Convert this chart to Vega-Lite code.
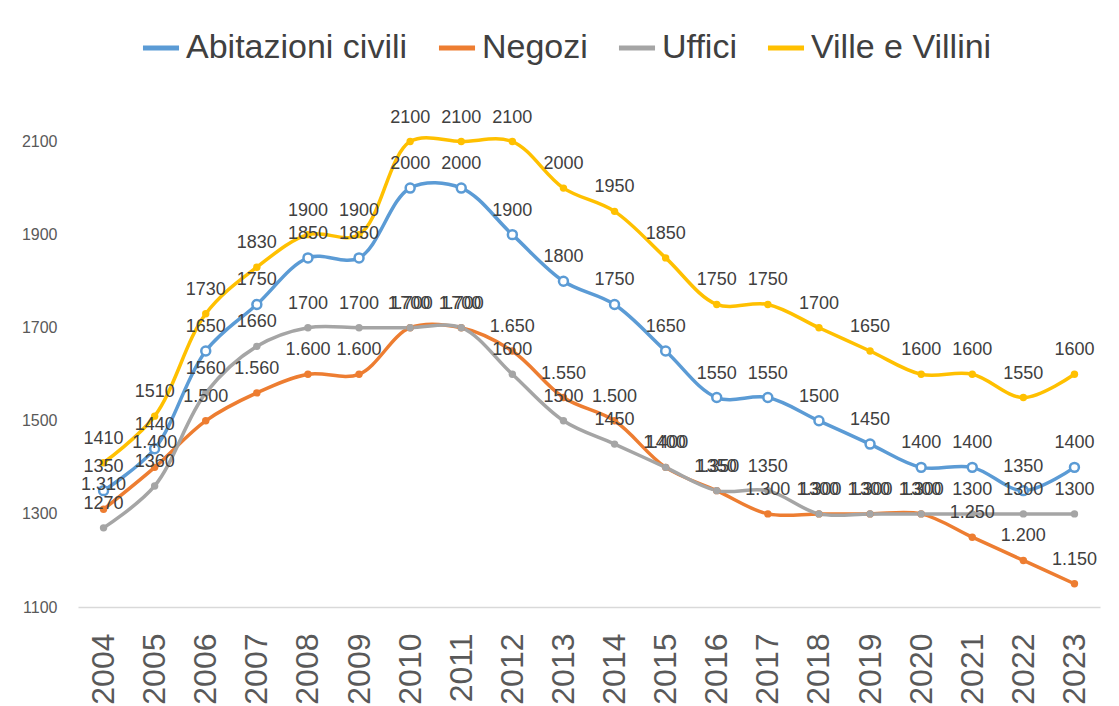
{
  "$schema": "https://vega.github.io/schema/vega-lite/v6.json",
  "width": 1022,
  "height": 512,
  "autosize": {"type": "none"},
  "padding": {"left": 78, "top": 95, "right": 19, "bottom": 99},
  "background": "white",
  "config": {
    "view": {"stroke": null},
    "locale": {"number": {"decimal": ",", "thousands": ".", "grouping": [3], "currency": ["€", ""]}},
    "font": "Liberation Sans"
  },
  "data": {
    "values": [
      {"year": "2004", "series": "Abitazioni civili", "value": 1350},
      {"year": "2005", "series": "Abitazioni civili", "value": 1440},
      {"year": "2006", "series": "Abitazioni civili", "value": 1650},
      {"year": "2007", "series": "Abitazioni civili", "value": 1750},
      {"year": "2008", "series": "Abitazioni civili", "value": 1850},
      {"year": "2009", "series": "Abitazioni civili", "value": 1850},
      {"year": "2010", "series": "Abitazioni civili", "value": 2000},
      {"year": "2011", "series": "Abitazioni civili", "value": 2000},
      {"year": "2012", "series": "Abitazioni civili", "value": 1900},
      {"year": "2013", "series": "Abitazioni civili", "value": 1800},
      {"year": "2014", "series": "Abitazioni civili", "value": 1750},
      {"year": "2015", "series": "Abitazioni civili", "value": 1650},
      {"year": "2016", "series": "Abitazioni civili", "value": 1550},
      {"year": "2017", "series": "Abitazioni civili", "value": 1550},
      {"year": "2018", "series": "Abitazioni civili", "value": 1500},
      {"year": "2019", "series": "Abitazioni civili", "value": 1450},
      {"year": "2020", "series": "Abitazioni civili", "value": 1400},
      {"year": "2021", "series": "Abitazioni civili", "value": 1400},
      {"year": "2022", "series": "Abitazioni civili", "value": 1350},
      {"year": "2023", "series": "Abitazioni civili", "value": 1400},
      {"year": "2004", "series": "Negozi", "value": 1310},
      {"year": "2005", "series": "Negozi", "value": 1400},
      {"year": "2006", "series": "Negozi", "value": 1500},
      {"year": "2007", "series": "Negozi", "value": 1560},
      {"year": "2008", "series": "Negozi", "value": 1600},
      {"year": "2009", "series": "Negozi", "value": 1600},
      {"year": "2010", "series": "Negozi", "value": 1700},
      {"year": "2011", "series": "Negozi", "value": 1700},
      {"year": "2012", "series": "Negozi", "value": 1650},
      {"year": "2013", "series": "Negozi", "value": 1550},
      {"year": "2014", "series": "Negozi", "value": 1500},
      {"year": "2015", "series": "Negozi", "value": 1400},
      {"year": "2016", "series": "Negozi", "value": 1350},
      {"year": "2017", "series": "Negozi", "value": 1300},
      {"year": "2018", "series": "Negozi", "value": 1300},
      {"year": "2019", "series": "Negozi", "value": 1300},
      {"year": "2020", "series": "Negozi", "value": 1300},
      {"year": "2021", "series": "Negozi", "value": 1250},
      {"year": "2022", "series": "Negozi", "value": 1200},
      {"year": "2023", "series": "Negozi", "value": 1150},
      {"year": "2004", "series": "Uffici", "value": 1270},
      {"year": "2005", "series": "Uffici", "value": 1360},
      {"year": "2006", "series": "Uffici", "value": 1560},
      {"year": "2007", "series": "Uffici", "value": 1660},
      {"year": "2008", "series": "Uffici", "value": 1700},
      {"year": "2009", "series": "Uffici", "value": 1700},
      {"year": "2010", "series": "Uffici", "value": 1700},
      {"year": "2011", "series": "Uffici", "value": 1700},
      {"year": "2012", "series": "Uffici", "value": 1600},
      {"year": "2013", "series": "Uffici", "value": 1500},
      {"year": "2014", "series": "Uffici", "value": 1450},
      {"year": "2015", "series": "Uffici", "value": 1400},
      {"year": "2016", "series": "Uffici", "value": 1350},
      {"year": "2017", "series": "Uffici", "value": 1350},
      {"year": "2018", "series": "Uffici", "value": 1300},
      {"year": "2019", "series": "Uffici", "value": 1300},
      {"year": "2020", "series": "Uffici", "value": 1300},
      {"year": "2021", "series": "Uffici", "value": 1300},
      {"year": "2022", "series": "Uffici", "value": 1300},
      {"year": "2023", "series": "Uffici", "value": 1300},
      {"year": "2004", "series": "Ville e Villini", "value": 1410},
      {"year": "2005", "series": "Ville e Villini", "value": 1510},
      {"year": "2006", "series": "Ville e Villini", "value": 1730},
      {"year": "2007", "series": "Ville e Villini", "value": 1830},
      {"year": "2008", "series": "Ville e Villini", "value": 1900},
      {"year": "2009", "series": "Ville e Villini", "value": 1900},
      {"year": "2010", "series": "Ville e Villini", "value": 2100},
      {"year": "2011", "series": "Ville e Villini", "value": 2100},
      {"year": "2012", "series": "Ville e Villini", "value": 2100},
      {"year": "2013", "series": "Ville e Villini", "value": 2000},
      {"year": "2014", "series": "Ville e Villini", "value": 1950},
      {"year": "2015", "series": "Ville e Villini", "value": 1850},
      {"year": "2016", "series": "Ville e Villini", "value": 1750},
      {"year": "2017", "series": "Ville e Villini", "value": 1750},
      {"year": "2018", "series": "Ville e Villini", "value": 1700},
      {"year": "2019", "series": "Ville e Villini", "value": 1650},
      {"year": "2020", "series": "Ville e Villini", "value": 1600},
      {"year": "2021", "series": "Ville e Villini", "value": 1600},
      {"year": "2022", "series": "Ville e Villini", "value": 1550},
      {"year": "2023", "series": "Ville e Villini", "value": 1600}
    ]
  },
  "encoding": {
    "x": {
      "field": "year", "type": "ordinal",
      "scale": {"type": "point", "padding": 0.5},
      "axis": {
        "title": null, "labelAngle": -90, "labelFontSize": 32, "labelColor": "#595959",
        "ticks": false, "tickSize": 0, "labelPadding": 26, "domainColor": "#D9D9D9", "domainWidth": 1.5, "grid": false
      }
    },
    "y": {
      "field": "value", "type": "quantitative",
      "scale": {"domain": [1100, 2200], "nice": false, "zero": false},
      "axis": {
        "title": null, "values": [1100, 1300, 1500, 1700, 1900, 2100], "format": "d",
        "labelFontSize": 16, "labelColor": "#595959", "ticks": false, "tickSize": 0,
        "domain": false, "grid": false, "labelPadding": 21
      }
    }
  },
  "layer": [
    {
      "mark": {"type": "line", "interpolate": "catmull-rom", "strokeWidth": 3.5},
      "encoding": {
        "color": {
          "field": "series", "type": "nominal",
          "scale": {"domain": ["Abitazioni civili", "Negozi", "Uffici", "Ville e Villini"], "range": ["#5B9BD5", "#ED7D31", "#A5A5A5", "#FFC000"]},
          "legend": {
            "title": null, "orient": "none", "direction": "horizontal", "legendX": 62, "legendY": -68,
            "labelFontSize": 34, "labelColor": "#404040", "symbolType": "stroke", "symbolStrokeWidth": 5,
            "symbolSize": 1300, "labelOffset": 4, "columnPadding": 20, "labelLimit": 400
          }
        }
      }
    },
    {
      "transform": [{"filter": "datum.series !== 'Abitazioni civili'"}],
      "mark": {"type": "circle", "size": 55, "opacity": 1},
      "encoding": {
        "color": {"field": "series", "type": "nominal", "legend": null}
      }
    },
    {
      "transform": [{"filter": "datum.series === 'Abitazioni civili'"}],
      "mark": {"type": "point", "shape": "circle", "filled": true, "fill": "white", "stroke": "#5B9BD5", "strokeWidth": 2.5, "size": 80, "opacity": 1}
    },
    {
      "transform": [{"filter": "datum.series !== 'Negozi'"}],
      "mark": {"type": "text", "fontSize": 18, "color": "#404040", "dy": -24, "baseline": "middle"},
      "encoding": {"text": {"field": "value", "type": "quantitative", "format": "d"}}
    },
    {
      "transform": [{"filter": "datum.series === 'Negozi'"}],
      "mark": {"type": "text", "fontSize": 18, "color": "#404040", "dy": -24, "baseline": "middle"},
      "encoding": {"text": {"field": "value", "type": "quantitative", "format": ",.0f"}}
    }
  ]
}
